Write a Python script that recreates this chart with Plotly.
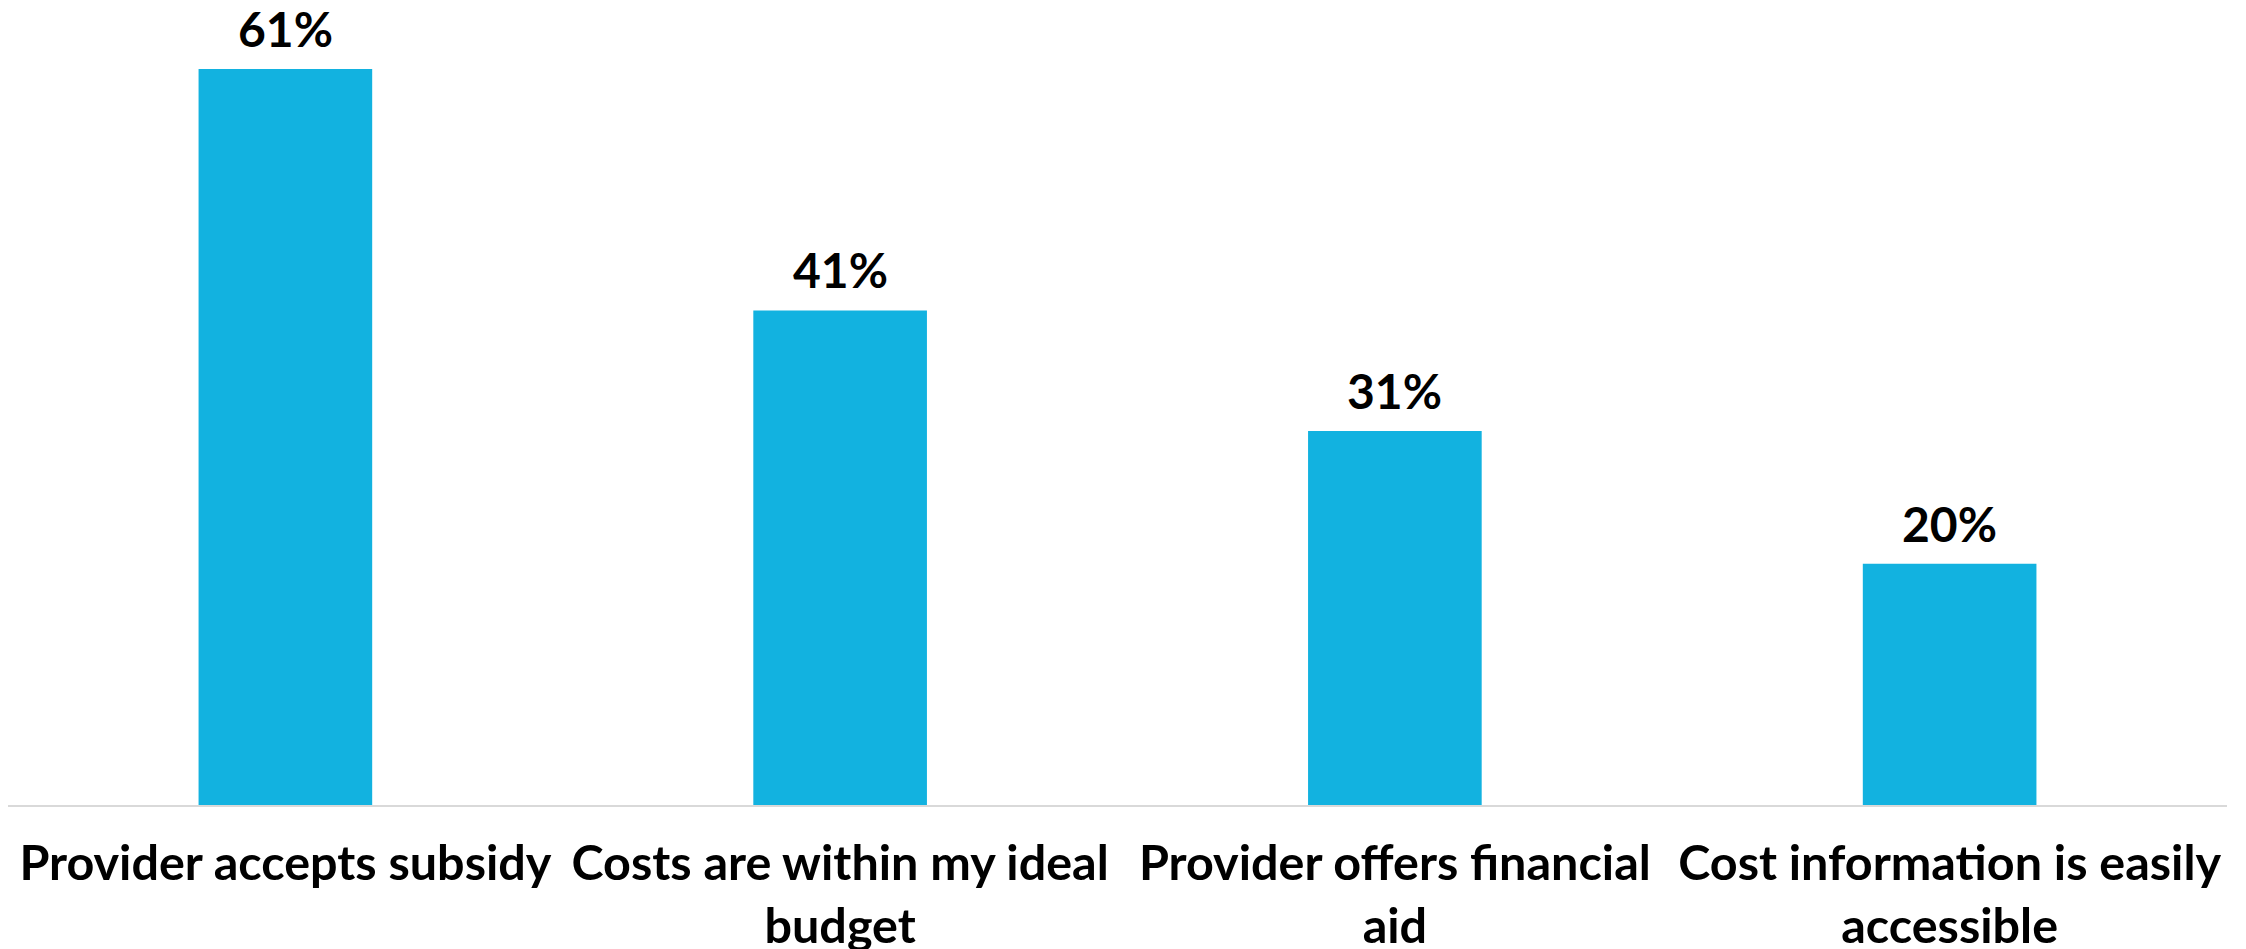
import plotly.graph_objects as go

categories = ["Provider accepts subsidy", "Costs are within my ideal<br>budget",
              "Provider offers financial<br>aid", "Cost information is easily<br>accessible"]
values = [61, 41, 31, 20]
labels = ["61%", "41%", "31%", "20%"]

fig = go.Figure(go.Bar(
    x=categories, y=values,
    marker=dict(color="#12B2E0", line=dict(width=0)),
    width=0.313, cliponaxis=False,
))
for c, v, t in zip(categories, values, labels):
    fig.add_annotation(x=c, y=v, text=t, showarrow=False, yanchor="bottom", yshift=11,
                       borderpad=0,
                       font=dict(family="Lato", size=48, color="#000000", weight="bold"))
# page body has an 8px default margin, so the figure is sized to fit the window
fig.update_layout(
    width=2238, height=941,
    margin=dict(l=0, r=19, t=2, b=144),
    paper_bgcolor="white", plot_bgcolor="white",
    showlegend=False,
    xaxis=dict(showline=True, linecolor="#D9D9D9", linewidth=2, showgrid=False,
               automargin=False,
               ticks="outside", ticklen=15, tickcolor="rgba(0,0,0,0)",
               tickfont=dict(family="Lato", size=48.5, color="#000000", weight="bold")),
    yaxis=dict(range=[0, 65.9], visible=False, showgrid=False, zeroline=False,
               automargin=False),
)
fig.write_html("out.html")
